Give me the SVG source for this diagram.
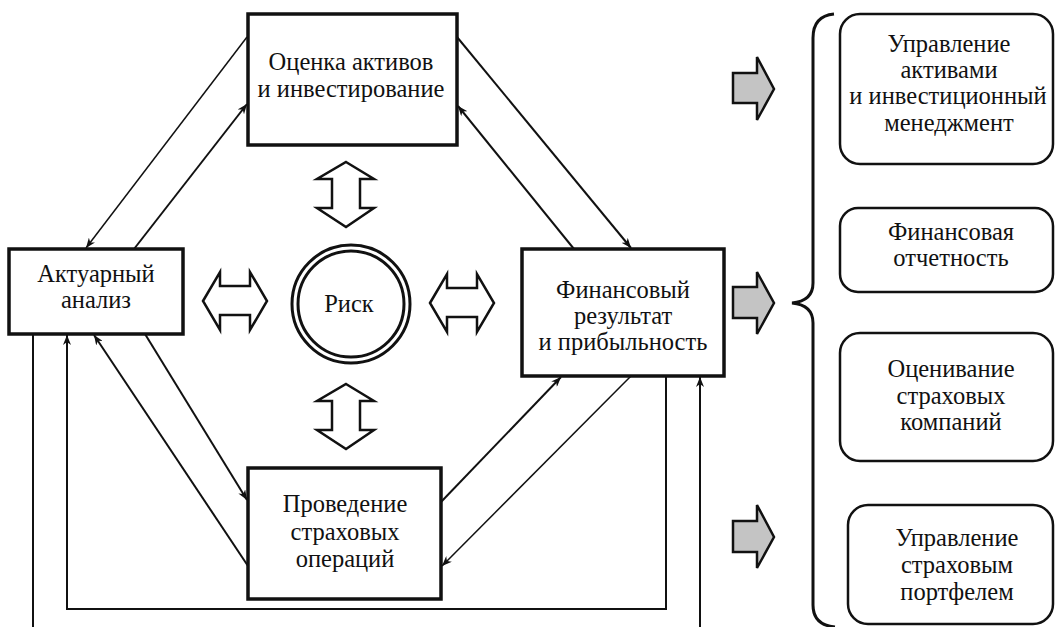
<svg xmlns="http://www.w3.org/2000/svg" width="1056" height="627" viewBox="0 0 1056 627">
<style>
.box{fill:#fff;stroke:#111;stroke-width:3.5}
.rbox{fill:#fff;stroke:#111;stroke-width:2.5}
.c{fill:none;stroke:#111;stroke-width:2}
.t{fill:none;stroke:#111;stroke-width:1.5}
.dbl{fill:#fff;stroke:#111;stroke-width:2.5;stroke-linejoin:miter}
.gray{fill:#c4c4c4;stroke:#111;stroke-width:2.5;stroke-linejoin:miter}
</style>
<defs>
<marker id="ah" viewBox="0 0 10 8" refX="10" refY="4" markerWidth="10" markerHeight="8" markerUnits="userSpaceOnUse" orient="auto">
<path d="M0,0 L10,4 L0,8 L3,4 Z" fill="#111"/>
</marker>
</defs>
<rect width="1056" height="627" fill="#fff"/>
<g id="connectors">
<line class="t" x1="247" y1="37" x2="86" y2="248" marker-end="url(#ah)"/>
<line class="c" x1="134" y1="249" x2="247" y2="104" marker-end="url(#ah)"/>
<line class="c" x1="457" y1="37" x2="631" y2="248" marker-end="url(#ah)"/>
<line class="c" x1="574" y1="249" x2="458" y2="106" marker-end="url(#ah)"/>
<line class="c" x1="145" y1="334" x2="247" y2="500" marker-end="url(#ah)"/>
<line class="c" x1="248" y1="566" x2="94" y2="335" marker-end="url(#ah)"/>
<line class="c" x1="441" y1="502" x2="561" y2="377" marker-end="url(#ah)"/>
<line class="t" x1="631" y1="376" x2="442" y2="566" marker-end="url(#ah)"/>
<polyline class="c" points="666,376 666,609 67,609 67,335" marker-end="url(#ah)"/>
<line class="c" x1="33" y1="334" x2="33" y2="627"/>
<line class="c" x1="700" y1="627" x2="700" y2="377" marker-end="url(#ah)"/>
</g>
<g id="n-assets">
<rect class="box" x="248" y="14" width="209" height="131"/>
<text x="351" y="70" text-anchor="middle" font-family="Liberation Serif, DejaVu Serif, serif" font-size="24.5" fill="#111">Оценка активов</text>
<text x="351" y="97" text-anchor="middle" font-family="Liberation Serif, DejaVu Serif, serif" font-size="24.5" fill="#111">и инвестирование</text>
</g>
<g id="n-actuarial">
<rect class="box" x="9" y="249" width="174" height="85"/>
<text x="96" y="282" text-anchor="middle" font-family="Liberation Serif, DejaVu Serif, serif" font-size="24.5" fill="#111">Актуарный</text>
<text x="96" y="308" text-anchor="middle" font-family="Liberation Serif, DejaVu Serif, serif" font-size="24.5" fill="#111">анализ</text>
</g>
<g id="n-financial">
<rect class="box" x="522" y="249" width="202" height="127"/>
<text x="623" y="298" text-anchor="middle" font-family="Liberation Serif, DejaVu Serif, serif" font-size="24.5" fill="#111">Финансовый</text>
<text x="623" y="324" text-anchor="middle" font-family="Liberation Serif, DejaVu Serif, serif" font-size="24.5" fill="#111">результат</text>
<text x="623" y="350" text-anchor="middle" font-family="Liberation Serif, DejaVu Serif, serif" font-size="24.5" fill="#111">и прибыльность</text>
</g>
<g id="n-operations">
<rect class="box" x="248" y="468" width="193" height="131"/>
<text x="345" y="512" text-anchor="middle" font-family="Liberation Serif, DejaVu Serif, serif" font-size="24.5" fill="#111">Проведение</text>
<text x="345" y="540" text-anchor="middle" font-family="Liberation Serif, DejaVu Serif, serif" font-size="24.5" fill="#111">страховых</text>
<text x="345" y="567" text-anchor="middle" font-family="Liberation Serif, DejaVu Serif, serif" font-size="24.5" fill="#111">операций</text>
</g>
<g id="n-risk">
<circle cx="351" cy="304" r="59" fill="#fff" stroke="#111" stroke-width="3"/>
<circle cx="351" cy="304" r="53" fill="none" stroke="#111" stroke-width="3"/>
<text x="349" y="312" text-anchor="middle" font-family="Liberation Serif, DejaVu Serif, serif" font-size="24.5" fill="#111">Риск</text>
</g>
<g id="double-arrows">
<path class="dbl" d="M346,162 L374,179 L360,179 L360,208 L374,208 L346,227 L317,208 L332,208 L332,179 L317,179 Z"/>
<path class="dbl" d="M346,384 L374,401 L360,401 L360,430 L374,430 L346,449 L317,430 L332,430 L332,401 L317,401 Z"/>
<path class="dbl" d="M203,301 L220,272 L220,286 L250,286 L250,272 L267,301 L250,330 L250,315 L220,315 L220,330 Z"/>
<path class="dbl" d="M430,303 L447,274 L447,288 L477,288 L477,274 L494,303 L477,332 L477,317 L447,317 L447,332 Z"/>
</g>
<g id="gray-arrows">
<path class="gray" d="M733,73 L757,73 L757,57 L774,89 L757,120 L757,103 L733,103 Z"/>
<path class="gray" d="M733,287 L757,287 L757,272 L774,303 L757,334 L757,318 L733,318 Z"/>
<path class="gray" d="M733,521 L757,521 L757,505 L774,537 L757,568 L757,552 L733,552 Z"/>
</g>
<g id="brace">
<path d="M834,14 Q813,16 813,38 L813,283 Q813,301 792,303 Q813,305 813,323 L813,605 Q813,625 835,627" fill="none" stroke="#111" stroke-width="3"/>
</g>
<g id="n-asset-mgmt">
<rect class="rbox" x="840" y="14" width="213" height="150" rx="20"/>
<text x="949" y="52" text-anchor="middle" font-family="Liberation Serif, DejaVu Serif, serif" font-size="24.5" fill="#111">Управление</text>
<text x="949" y="78" text-anchor="middle" font-family="Liberation Serif, DejaVu Serif, serif" font-size="24.5" fill="#111">активами</text>
<text x="948" y="104" text-anchor="middle" font-family="Liberation Serif, DejaVu Serif, serif" font-size="24.5" fill="#111">и инвестиционный</text>
<text x="949" y="131" text-anchor="middle" font-family="Liberation Serif, DejaVu Serif, serif" font-size="24.5" fill="#111">менеджмент</text>
</g>
<g id="n-reporting">
<rect class="rbox" x="840" y="208" width="213" height="84" rx="18"/>
<text x="951" y="240" text-anchor="middle" font-family="Liberation Serif, DejaVu Serif, serif" font-size="24.5" fill="#111">Финансовая</text>
<text x="951" y="266" text-anchor="middle" font-family="Liberation Serif, DejaVu Serif, serif" font-size="24.5" fill="#111">отчетность</text>
</g>
<g id="n-valuation">
<rect class="rbox" x="840" y="333" width="213" height="128" rx="20"/>
<text x="951" y="377" text-anchor="middle" font-family="Liberation Serif, DejaVu Serif, serif" font-size="24.5" fill="#111">Оценивание</text>
<text x="951" y="404" text-anchor="middle" font-family="Liberation Serif, DejaVu Serif, serif" font-size="24.5" fill="#111">страховых</text>
<text x="951" y="430" text-anchor="middle" font-family="Liberation Serif, DejaVu Serif, serif" font-size="24.5" fill="#111">компаний</text>
</g>
<g id="n-portfolio">
<rect class="rbox" x="848" y="505" width="205" height="119" rx="20"/>
<text x="957" y="546" text-anchor="middle" font-family="Liberation Serif, DejaVu Serif, serif" font-size="24.5" fill="#111">Управление</text>
<text x="957" y="573" text-anchor="middle" font-family="Liberation Serif, DejaVu Serif, serif" font-size="24.5" fill="#111">страховым</text>
<text x="957" y="600" text-anchor="middle" font-family="Liberation Serif, DejaVu Serif, serif" font-size="24.5" fill="#111">портфелем</text>
</g>
</svg>
